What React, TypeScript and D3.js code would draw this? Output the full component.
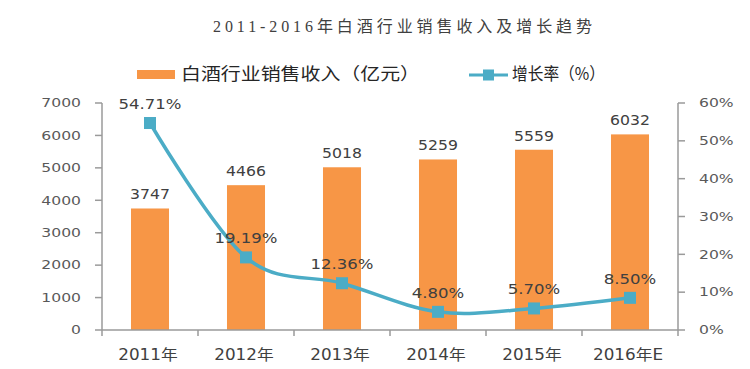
import React from 'react';
import * as d3 from 'd3';

const years = ['2011年', '2012年', '2013年', '2014年', '2015年', '2016年E'];
const revenue = [3747, 4466, 5018, 5259, 5559, 6032];
const growth = [54.71, 19.19, 12.36, 4.8, 5.7, 8.5];
const growthLabels = ['54.71%', '19.19%', '12.36%', '4.80%', '5.70%', '8.50%'];
const leftTicks = [0, 1000, 2000, 3000, 4000, 5000, 6000, 7000];
const rightTicks = [0, 10, 20, 30, 40, 50, 60];
const title = '2011-2016年白酒行业销售收入及增长趋势';
const legendBar = '白酒行业销售收入（亿元）';
const legendLine = '增长率（%）';

const W = 750;
const H = 369;
const BAR = '#F79646';
const LINE = '#4BACC6';
const AXIS = '#9a9a9a';
const NUM_FONT = '"DejaVu Sans", "Noto Sans CJK SC", sans-serif';

function T(props: {
  x: number; y: number; sx?: number; anchor?: string; size: number; fill?: string;
  family?: string; children: React.ReactNode; dy?: string;
}) {
  const { x, y, sx = 1, anchor = 'middle', size, fill = '#404040', family = NUM_FONT, children, dy } = props;
  return (
    <text
      transform={`translate(${x},${y}) scale(${sx},1)`}
      textAnchor={anchor}
      fontSize={size}
      fill={fill}
      fontFamily={family}
      dy={dy}
    >
      {children}
    </text>
  );
}

export default function App() {
  const x = d3.scaleBand<string>().domain(years).range([102, 678]).paddingInner(0.604).paddingOuter(0.302);
  const yL = d3.scaleLinear().domain([0, 7000]).range([330, 103]);
  const yR = d3.scaleLinear().domain([0, 60]).range([330, 103]);
  const cx = (d: string) => (x(d) as number) + x.bandwidth() / 2;
  const step = x.step();
  const x0 = x.range()[0];
  const x1 = x.range()[1];
  const boundaries = d3.range(years.length + 1).map((i) => x0 + i * step);

  const pts: [number, number][] = years.map((d, i) => [cx(d), yR(growth[i])]);
  const line = d3.line().curve(d3.curveCatmullRom.alpha(0))(pts) as string;

  return (
    <svg width={W} height={H} style={{ position: 'absolute', left: 0, top: 0, background: '#fff' }}>
      <rect x={0} y={0} width={W} height={H} fill="#fff" />
      {/* title */}
      <text
        x={213}
        y={32}
        fontSize={16}
        fill="#404040"
        fontFamily='"Liberation Serif", "Noto Sans CJK SC", serif'
        textLength={379}
        lengthAdjust="spacing"
      >
        {title}
      </text>

      {/* legend */}
      <rect x={137} y={70} width={38} height={9} fill={BAR} />
      <text
        x={181}
        y={80}
        fontSize={17}
        fill="#262626"
        fontFamily='"Noto Sans CJK SC", sans-serif'
        textLength={239}
        lengthAdjust="spacingAndGlyphs"
      >
        {legendBar}
      </text>
      <line x1={469} x2={508} y1={75} y2={75} stroke={LINE} strokeWidth={3} />
      <rect x={483} y={69.5} width={11} height={11} fill={LINE} />
      <text
        x={512}
        y={80}
        fontSize={17}
        fill="#262626"
        fontFamily='"Noto Sans CJK SC", sans-serif'
        textLength={93}
        lengthAdjust="spacingAndGlyphs"
      >
        {legendLine}
      </text>

      {/* bars */}
      {years.map((d, i) => (
        <rect key={d} x={x(d)} y={yL(revenue[i])} width={x.bandwidth()} height={yL(0) - yL(revenue[i])} fill={BAR} />
      ))}

      {/* axes */}
      <line x1={x0} x2={x0} y1={yL(7000)} y2={yL(0)} stroke={AXIS} strokeWidth={1.5} />
      {leftTicks.map((t) => (
        <g key={'l' + t}>
          <line x1={x0 - 7} x2={x0} y1={yL(t)} y2={yL(t)} stroke={AXIS} strokeWidth={1.5} />
          <T x={81} y={yL(t)} anchor="end" size={12} sx={1.3} fill="#595959" dy="0.36em">
            {t}
          </T>
        </g>
      ))}
      <line x1={x1} x2={x1} y1={yR(60)} y2={yR(0)} stroke={AXIS} strokeWidth={1.5} />
      {rightTicks.map((t) => (
        <g key={'r' + t}>
          <line x1={x1} x2={x1 + 7} y1={yR(t)} y2={yR(t)} stroke={AXIS} strokeWidth={1.5} />
          <T x={699} y={yR(t)} anchor="start" size={12} sx={1.3} fill="#595959" dy="0.36em">
            {t + '%'}
          </T>
        </g>
      ))}
      <line x1={x0} x2={x1} y1={yL(0)} y2={yL(0)} stroke={AXIS} strokeWidth={1.5} />
      {boundaries.map((b, i) => (
        <line key={'b' + i} x1={b} x2={b} y1={yL(0)} y2={yL(0) + 6} stroke={AXIS} strokeWidth={1.5} />
      ))}
      {years.map((d) => (
        <T key={'yl' + d} x={cx(d) - 2} y={360} size={15} sx={1.12} fill="#404040">
          {d}
        </T>
      ))}

      {/* bar labels */}
      {years.map((d, i) => (
        <T key={'bl' + d} x={cx(d)} y={yL(revenue[i]) - 9} size={14} sx={1.12} fill="#404040">
          {revenue[i]}
        </T>
      ))}

      {/* growth line */}
      <path d={line} fill="none" stroke={LINE} strokeWidth={3.5} />
      {pts.map((p, i) => (
        <rect key={'m' + i} x={p[0] - 6} y={p[1] - 6} width={12} height={12} fill={LINE} />
      ))}
      {pts.map((p, i) => (
        <T key={'gl' + i} x={p[0]} y={p[1] - 14} size={14} sx={1.18} fill="#404040">
          {growthLabels[i]}
        </T>
      ))}
    </svg>
  );
}
